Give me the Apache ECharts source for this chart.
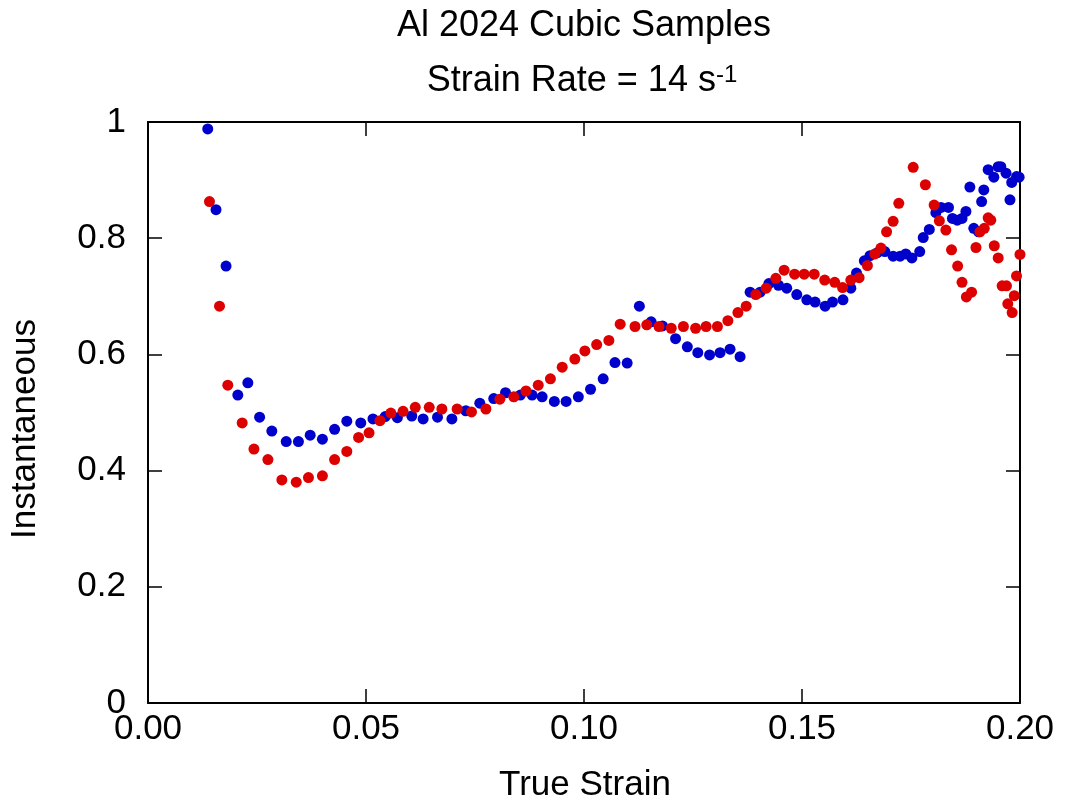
<!DOCTYPE html>
<html>
<head>
<meta charset="utf-8">
<script src="https://cdn.jsdelivr.net/npm/echarts@6/dist/echarts.min.js"></script>
<style>
  html, body { margin: 0; padding: 0; background: #ffffff; }
  #chart { width: 1065px; height: 806px; }
</style>
</head>
<body>
<div id="chart"></div>
<script>
// ---- Data ----
const blueStrain = [0.0137,0.0156,0.0179,0.0206,0.0229,0.0256,0.0284,0.0317,0.0345,0.0372,0.0400,0.0428,0.0456,0.0488,0.0516,0.0544,0.0572,0.0605,0.0631,0.0664,0.0697,0.0729,0.0761,0.0793,0.0820,0.0854,0.0881,0.0904,0.0932,0.0959,0.0987,0.1015,0.1044,0.1071,0.1099,0.1127,0.1154,0.1180,0.1210,0.1237,0.1261,0.1288,0.1312,0.1335,0.1358,0.1381,0.1404,0.1424,0.1446,0.1465,0.1488,0.1511,0.1530,0.1553,0.1570,0.1594,0.1612,0.1625,0.1643,0.1656,0.1673,0.1690,0.1709,0.1725,0.1738,0.1752,0.1770,0.1778,0.1792,0.1807,0.1819,0.1836,0.1845,0.1856,0.1867,0.1876,0.1885,0.1894,0.1905,0.1912,0.1917,0.1927,0.1940,0.1950,0.1956,0.1968,0.1977,0.1981,0.1992,0.1998];
const blueValue = [0.988,0.849,0.752,0.530,0.551,0.492,0.468,0.450,0.450,0.461,0.454,0.471,0.485,0.482,0.489,0.493,0.491,0.494,0.489,0.492,0.489,0.503,0.516,0.524,0.534,0.530,0.530,0.527,0.519,0.519,0.527,0.540,0.558,0.586,0.585,0.683,0.656,0.649,0.627,0.613,0.603,0.599,0.603,0.609,0.596,0.707,0.707,0.722,0.719,0.714,0.703,0.694,0.690,0.683,0.690,0.694,0.714,0.740,0.761,0.770,0.775,0.777,0.769,0.769,0.773,0.766,0.777,0.801,0.815,0.844,0.853,0.853,0.834,0.831,0.834,0.846,0.888,0.817,0.811,0.863,0.883,0.918,0.905,0.923,0.923,0.912,0.866,0.896,0.906,0.905];

const redStrain = [0.0141,0.0164,0.0183,0.0216,0.0243,0.0275,0.0307,0.0340,0.0368,0.0400,0.0428,0.0456,0.0483,0.0507,0.0532,0.0557,0.0585,0.0613,0.0645,0.0674,0.0709,0.0742,0.0775,0.0807,0.0839,0.0867,0.0895,0.0923,0.0950,0.0979,0.1002,0.1029,0.1057,0.1083,0.1117,0.1144,0.1172,0.1200,0.1228,0.1256,0.1280,0.1306,0.1330,0.1353,0.1372,0.1394,0.1418,0.1440,0.1459,0.1483,0.1505,0.1528,0.1552,0.1575,0.1593,0.1612,0.1631,0.1650,0.1667,0.1681,0.1694,0.1709,0.1722,0.1755,0.1783,0.1803,0.1815,0.1830,0.1843,0.1857,0.1867,0.1877,0.1889,0.1899,0.1908,0.1918,0.1927,0.1933,0.1941,0.1950,0.1959,0.1969,0.1972,0.1982,0.1987,0.1992,0.2000];
const redValue = [0.863,0.683,0.547,0.482,0.437,0.419,0.384,0.380,0.388,0.391,0.419,0.433,0.457,0.465,0.486,0.499,0.502,0.509,0.509,0.506,0.506,0.501,0.506,0.523,0.527,0.537,0.547,0.558,0.578,0.592,0.606,0.617,0.624,0.652,0.648,0.651,0.648,0.645,0.648,0.645,0.648,0.648,0.658,0.672,0.683,0.703,0.714,0.731,0.745,0.738,0.738,0.738,0.728,0.724,0.715,0.728,0.732,0.753,0.773,0.783,0.811,0.829,0.860,0.922,0.892,0.857,0.830,0.814,0.780,0.752,0.724,0.699,0.707,0.784,0.811,0.817,0.835,0.831,0.787,0.766,0.718,0.718,0.687,0.672,0.701,0.735,0.772];

const xMin = 0, xMax = 0.2, xStep = 0.05;
const yMin = 0, yMax = 1, yStep = 0.2;

const titleText = 'Al 2024 Cubic Samples';
const subtitleText = 'Strain Rate = 14 s';
const subtitleSup = '-1';
const xName = 'True Strain';
const yName = 'Instantaneous';

// ---- Chart ----
const FONT = '"Liberation Sans", Arial, Helvetica, sans-serif';
const pair = (xs, ys) => xs.map((x, i) => [x, ys[i]]);

const chart = echarts.init(document.getElementById('chart'), null, { renderer: 'canvas' });

const axisLine = { show: true, onZero: false, lineStyle: { color: '#000', width: 2 } };
const axisTick = { show: true, inside: true, length: 14, lineStyle: { color: '#000', width: 1.5 } };

chart.setOption({
  backgroundColor: '#ffffff',
  animation: false,
  grid: { left: 148, right: 45, top: 122, bottom: 103, containLabel: false },
  xAxis: [
    {
      type: 'value', position: 'bottom', min: xMin, max: xMax, interval: xStep,
      axisLine, axisTick, splitLine: { show: false },
      axisLabel: { color: '#000', fontSize: 35, fontFamily: FONT, margin: 9,
                   formatter: v => v.toFixed(2) }
    },
    {
      type: 'value', position: 'top', min: xMin, max: xMax, interval: xStep,
      axisLine, axisTick, splitLine: { show: false }, axisLabel: { show: false }
    }
  ],
  yAxis: [
    {
      type: 'value', position: 'left', min: yMin, max: yMax, interval: yStep,
      axisLine, axisTick, splitLine: { show: false },
      axisLabel: { color: '#000', fontSize: 35, fontFamily: FONT, margin: 22,
                   formatter: v => String(+v.toFixed(1)) }
    },
    {
      type: 'value', position: 'right', min: yMin, max: yMax, interval: yStep,
      axisLine, axisTick, splitLine: { show: false }, axisLabel: { show: false }
    }
  ],
  series: [
    {
      type: 'scatter', name: 'blue', xAxisIndex: 0, yAxisIndex: 0,
      symbol: 'circle', symbolSize: 11, clip: false,
      itemStyle: { color: '#0000cc', opacity: 1 },
      data: pair(blueStrain, blueValue), z: 3
    },
    {
      type: 'scatter', name: 'red', xAxisIndex: 0, yAxisIndex: 0,
      symbol: 'circle', symbolSize: 11, clip: false,
      itemStyle: { color: '#dd0000', opacity: 1 },
      data: pair(redStrain, redValue), z: 4
    }
  ],
  graphic: [
    {
      type: 'text', x: 584, y: 26, z: 10,
      style: { text: titleText, fill: '#000', font: '36px ' + FONT,
               textAlign: 'center', textVerticalAlign: 'middle' }
    },
    {
      type: 'text', x: 582, y: 81, z: 10,
      style: {
        text: subtitleText + '{sup|' + subtitleSup + '}',
        fill: '#000', fontSize: 36, fontFamily: FONT,
        textAlign: 'center', textVerticalAlign: 'middle',
        rich: { sup: { fontSize: 24, fontFamily: FONT, fill: '#000', verticalAlign: 'top', padding: [0, 0, 6, 0] } }
      }
    },
    {
      type: 'text', x: 585, y: 785, z: 10,
      style: { text: xName, fill: '#000', font: '35px ' + FONT,
               textAlign: 'center', textVerticalAlign: 'middle' }
    },
    {
      type: 'text', x: 25, y: 429, rotation: Math.PI / 2, z: 10,
      style: { text: yName, fill: '#000', font: '35px ' + FONT,
               textAlign: 'center', textVerticalAlign: 'middle' }
    }
  ]
});
</script>
</body>
</html>
